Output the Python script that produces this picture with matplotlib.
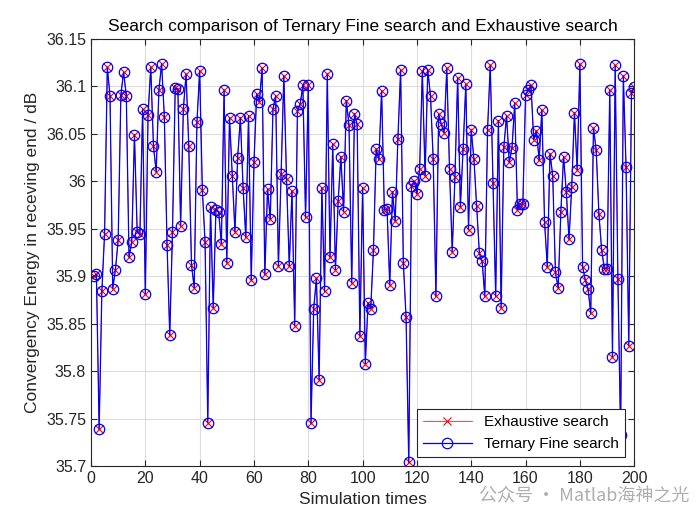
import numpy as np
import matplotlib
matplotlib.use('Agg')
import matplotlib.pyplot as plt
from matplotlib.ticker import FuncFormatter, MultipleLocator

plt.rcParams['font.family'] = ['Liberation Sans', 'Noto Sans CJK SC', 'DejaVu Sans']

# Convergency energy per simulation run (both searches reach the same value)
energy = [
    35.900, 35.902, 35.739, 35.884, 35.945, 36.120, 36.090, 35.887, 35.907, 35.938,
    36.091, 36.115, 36.090, 35.920, 35.936, 36.049, 35.947, 35.944, 36.076, 35.881,
    36.070, 36.120, 36.037, 36.010, 36.096, 36.124, 36.068, 35.933, 35.838, 35.947,
    36.098, 36.097, 35.953, 36.076, 36.113, 36.037, 35.912, 35.888, 36.062, 36.116,
    35.991, 35.936, 35.746, 35.973, 35.867, 35.970, 35.968, 35.934, 36.096, 35.914,
    36.067, 36.006, 35.947, 36.025, 36.067, 35.993, 35.941, 36.069, 35.896, 36.020,
    36.092, 36.084, 36.119, 35.902, 35.992, 35.960, 36.076, 36.090, 35.911, 36.008,
    36.111, 36.002, 35.911, 35.990, 35.848, 36.074, 36.081, 36.101, 35.962, 36.101,
    35.745, 35.866, 35.898, 35.791, 35.993, 35.884, 36.113, 35.920, 36.039, 35.907,
    35.979, 36.026, 35.968, 36.085, 36.059, 35.893, 36.071, 36.060, 35.837, 35.993,
    35.808, 35.872, 35.866, 35.928, 36.034, 36.023, 36.095, 35.970, 35.971, 35.891,
    35.989, 35.958, 36.045, 36.117, 35.914, 35.857, 35.704, 35.995, 36.000, 35.987,
    36.013, 36.116, 36.006, 36.117, 36.090, 36.023, 35.879, 36.071, 36.060, 36.051,
    36.119, 36.013, 35.926, 36.005, 36.109, 35.973, 36.034, 36.102, 35.949, 36.054,
    36.023, 35.974, 35.924, 35.916, 35.879, 36.054, 36.122, 35.998, 35.879, 36.064,
    35.867, 36.036, 36.069, 36.020, 36.035, 36.082, 35.970, 35.976, 35.976, 36.091,
    36.096, 36.101, 36.044, 36.053, 36.022, 36.075, 35.957, 35.910, 36.029, 36.006,
    35.904, 35.888, 35.968, 36.026, 35.989, 35.939, 35.994, 36.072, 36.012, 36.123,
    35.910, 35.896, 35.887, 35.861, 36.056, 36.033, 35.966, 35.928, 35.908, 35.908,
    36.096, 35.815, 36.122, 35.897, 35.733, 36.111, 36.015, 35.827, 36.093, 36.099,
]
runs = np.arange(1, len(energy) + 1)
exhaustive = energy
ternary = energy

fig = plt.figure(figsize=(7, 5.25), dpi=100)
ax = fig.add_axes([0.13, 0.112, 0.776, 0.814])

ax.plot(runs, exhaustive, color='red', marker='x', markersize=5.5, linewidth=0.5,
        markeredgewidth=0.8, label='Exhaustive search')
ax.plot(runs, ternary, color='blue', marker='o', markersize=7.5, linewidth=0.9,
        markerfacecolor='none', markeredgewidth=0.9, label='Ternary Fine search')

ax.set_xlim(0, 200)
ax.set_ylim(35.7, 36.15)
ax.xaxis.set_major_locator(MultipleLocator(20))
ax.yaxis.set_major_locator(MultipleLocator(0.05))
ax.yaxis.set_major_formatter(FuncFormatter(lambda v, p: '%g' % round(v, 2)))

ax.grid(True, color='#dcdcdc', linewidth=0.8)
ax.set_axisbelow(True)
ax.tick_params(direction='in', top=True, right=True, labelsize=11.5,
               colors='#262626', length=4)
for s in ax.spines.values():
    s.set_color('#262626')
    s.set_linewidth(0.8)

ax.set_xlabel('Simulation times', fontsize=12.5, color='#262626')
ax.set_ylabel('Convergency Energy in receving end / dB', fontsize=12.5, color='#262626')
ax.set_title('Search comparison of Ternary Fine search and Exhaustive search',
             fontsize=12.5, color='black')

leg = ax.legend(loc='lower right', fontsize=11, fancybox=False, edgecolor='#262626',
                framealpha=1, borderaxespad=0.6, handlelength=3.2)
leg.get_frame().set_linewidth(0.8)

# watermark
fig.text(0.985, 0.055, '公众号 · Matlab海神之光', ha='right', va='center',
         fontsize=13, color='#9a9a9a', alpha=0.8,
         family=['Noto Sans CJK SC', 'DejaVu Sans'])

fig.savefig('out.png', dpi=100)
